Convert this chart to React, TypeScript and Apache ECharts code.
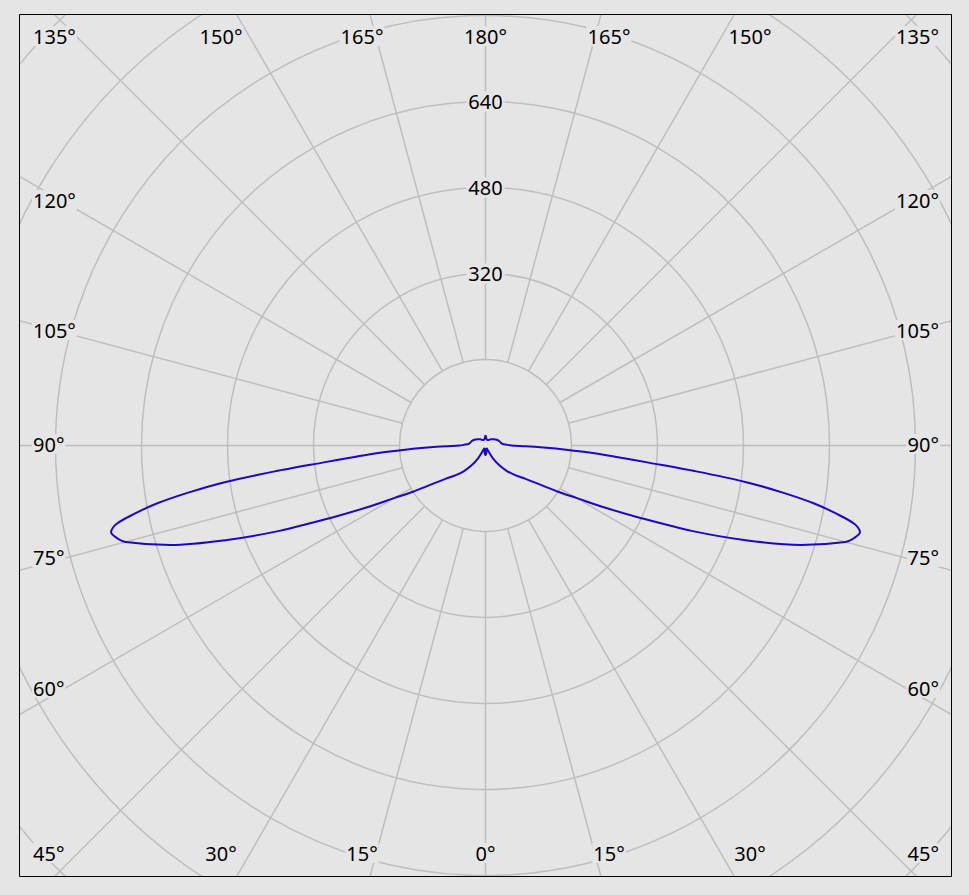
import React, { useEffect, useRef } from 'react';
import * as echarts from 'echarts';

// Photometric data: vertical angle gamma (deg from nadir) and luminous intensity (cd)
const GAMMA = [0, 5, 10, 15, 20, 25, 30, 35, 40, 45, 50, 55, 57.5, 60, 62.5, 65, 67.5, 70, 72.5, 75, 76, 77, 78, 79, 80, 81, 82, 83, 84, 85, 86, 87, 88, 89, 90, 92.5, 95, 100, 110, 120, 130, 140, 150, 160, 170, 175, 180];
const CANDELA = [18, 15, 10, 7, 5, 8, 27, 45, 62, 78, 96, 130, 160, 195, 250, 320, 415, 515, 615, 693, 708, 715, 702, 665, 621, 560, 490, 395, 305, 245, 200, 150, 108, 75, 48, 38, 32, 29, 26, 22, 18, 15, 12, 11, 12, 14, 19];

// Radial scale
const RADIUS_MAX = 1280;
const RADIUS_STEP = 160;
const RADIUS_LABELS = [320, 480, 640];
const SPOKE_START = 160;

// Angle labels around the frame
const SIDE_LABELS = [135, 120, 105, 90, 75, 60, 45];
const TOP_LABELS = [150, 165, 180, 165, 150];
const BOTTOM_LABELS = [30, 15, 0, 15, 30];

// Layout / style
const W = 969;
const H = 895;
const CX = 485.5;
const CY = 445.5;
const PX_PER_STEP = 86;
const R_OUT = (RADIUS_MAX / RADIUS_STEP) * PX_PER_STEP;
const R_IN = (SPOKE_START / RADIUS_STEP) * PX_PER_STEP;
const FRAME = { x0: 19.5, y0: 14.5, x1: 951.5, y1: 876.5 };
const SIDE_Y = [36, 200, 330, 444, 557, 688, 853];
const ROW_X = [221, 362, 485.5, 609, 750];
const TOP_Y = 36;
const BOTTOM_Y = 853;
const LEFT_X = 32;
const RIGHT_X = 940;
const BG = '#e5e5e5';
const GRID = '#bebebe';
const CURVE = '#1c06cc';
const FONT_FAMILY = '"Noto Sans", "Open Sans", sans-serif';
const FONT_SIZE = 20;

export default function App() {
  const ref = useRef<HTMLDivElement>(null);

  useEffect(() => {
    if (!ref.current) return;
    const chart = echarts.init(ref.current, undefined, { renderer: 'svg' });

    // left half: gamma 180 -> 0 mapped to negative angles; right half: 0 -> 180
    const data: number[][] = [];
    for (let i = GAMMA.length - 1; i >= 0; i--) data.push([CANDELA[i], -GAMMA[i]]);
    for (let i = 0; i < GAMMA.length; i++) data.push([CANDELA[i], GAMMA[i]]);

    const font = `${FONT_SIZE}px ${FONT_FAMILY}`;
    const textEl = (text: string, x: number, y: number, align: string) => ({
      type: 'text',
      x,
      y,
      z: 110,
      style: {
        text,
        font,
        fill: '#000',
        align,
        verticalAlign: 'middle',
        textAlign: align,
        textVerticalAlign: 'middle',
        backgroundColor: BG,
        padding: [0, 1],
      },
    });

    const graphics: any[] = [
      { type: 'rect', z: 100, shape: { x: 0, y: 0, width: W, height: FRAME.y0 }, style: { fill: BG } },
      { type: 'rect', z: 100, shape: { x: 0, y: FRAME.y1, width: W, height: H - FRAME.y1 }, style: { fill: BG } },
      { type: 'rect', z: 100, shape: { x: 0, y: 0, width: FRAME.x0, height: H }, style: { fill: BG } },
      { type: 'rect', z: 100, shape: { x: FRAME.x1, y: 0, width: W - FRAME.x1, height: H }, style: { fill: BG } },
      {
        type: 'rect',
        z: 105,
        shape: { x: FRAME.x0, y: FRAME.y0, width: FRAME.x1 - FRAME.x0, height: FRAME.y1 - FRAME.y0 },
        style: { fill: 'none', stroke: '#000', lineWidth: 1 },
      },
    ];
    SIDE_LABELS.forEach((v, i) => {
      graphics.push(textEl(`${v}°`, LEFT_X, SIDE_Y[i], 'left'));
      graphics.push(textEl(`${v}°`, RIGHT_X, SIDE_Y[i], 'right'));
    });
    TOP_LABELS.forEach((v, i) => graphics.push(textEl(`${v}°`, ROW_X[i], TOP_Y, 'center')));
    BOTTOM_LABELS.forEach((v, i) => graphics.push(textEl(`${v}°`, ROW_X[i], BOTTOM_Y, 'center')));

    const option: any = {
      animation: false,
      backgroundColor: BG,
      polar: [
        { center: [CX, CY], radius: [0, R_OUT] },
        { center: [CX, CY], radius: [R_IN, R_OUT] },
      ],
      angleAxis: [
        { polarIndex: 0, type: 'value', min: -180, max: 180, startAngle: 90, clockwise: false, show: false },
        {
          polarIndex: 1,
          type: 'value',
          min: -180,
          max: 180,
          interval: 15,
          startAngle: 90,
          clockwise: false,
          z: 1,
          axisLine: { show: false },
          axisTick: { show: false },
          axisLabel: { show: false },
          splitLine: { show: true, lineStyle: { color: GRID, width: 1.5 } },
        },
      ],
      radiusAxis: [
        {
          polarIndex: 0,
          type: 'value',
          min: 0,
          max: RADIUS_MAX,
          interval: RADIUS_STEP,
          z: 3,
          axisLine: { show: false },
          axisTick: { show: false },
          splitLine: { show: true, lineStyle: { color: GRID, width: 1.5 } },
          axisLabel: {
            show: true,
            formatter: (v: number) => (RADIUS_LABELS.indexOf(v) >= 0 ? String(v) : ''),
            align: 'center',
            verticalAlign: 'middle',
            margin: 0,
            color: '#000',
            fontSize: FONT_SIZE,
            fontFamily: FONT_FAMILY,
            backgroundColor: BG,
            padding: [0, 2],
          },
        },
        { polarIndex: 1, type: 'value', min: SPOKE_START, max: RADIUS_MAX, show: false },
      ],
      series: [
        {
          type: 'line',
          coordinateSystem: 'polar',
          polarIndex: 0,
          data,
          showSymbol: false,
          symbol: 'none',
          smooth: 0.3,
          z: 10,
          lineStyle: { color: CURVE, width: 2 },
        },
      ],
      graphic: graphics,
    };
    chart.setOption(option);
    return () => chart.dispose();
  }, []);

  return <div ref={ref} style={{ position: 'fixed', left: 0, top: 0, width: W, height: H }} />;
}
